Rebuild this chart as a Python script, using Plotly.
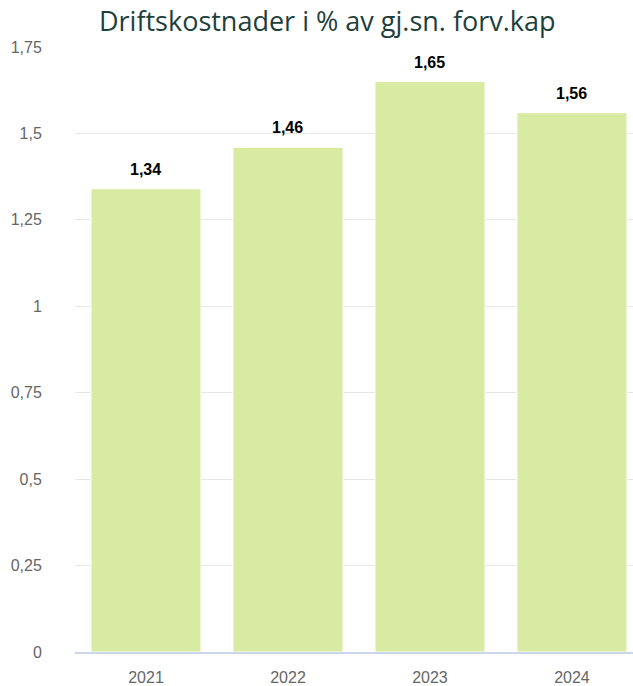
import plotly.graph_objects as go

# Data
years = ["2021", "2022", "2023", "2024"]
values = [1.34, 1.46, 1.65, 1.56]
value_labels = ["1,34", "1,46", "1,65", "1,56"]
y_ticks = [0, 0.25, 0.5, 0.75, 1, 1.25, 1.5, 1.75]
y_tick_labels = ["0", "0,25", "0,5", "0,75", "1", "1,25", "1,5", "1,75"]

bar_color = "#d9eaa3"
tick_font = dict(family="Liberation Sans, Arial", size=16, color="#666666")

fig = go.Figure()
fig.add_trace(go.Bar(
    x=list(range(len(years))),
    y=values,
    marker=dict(color=bar_color, line=dict(color="white", width=1)),
    hovertext=years,
    hoverinfo="text+y",
))

# value labels above each bar
for i, (v, lab) in enumerate(zip(values, value_labels)):
    fig.add_annotation(
        x=i, y=v, xref="x", yref="y", text=f"<b>{lab}</b>", showarrow=False,
        yanchor="bottom", yshift=9,
        font=dict(family="Liberation Sans, Arial", size=16, color="#000000"),
    )

fig.update_layout(
    width=633, height=686,
    margin=dict(l=75, r=0, t=47, b=34),
    paper_bgcolor="white", plot_bgcolor="white",
    bargap=0.225,
    showlegend=False,
    title=dict(
        text="Driftskostnader i % av gj.sn. forv.kap",
        x=0.517, xanchor="center", y=0.968, yanchor="middle",
        font=dict(family="Open Sans", size=27, color="#1d3f3b"),
    ),
    xaxis=dict(
        range=[-0.5, 3.43],
        tickvals=list(range(len(years))), ticktext=years,
        showgrid=False, zeroline=False,
        showline=True, linecolor="#ccd6eb", linewidth=2,
        ticks="outside", ticklen=10, tickcolor="rgba(0,0,0,0)",
        tickfont=tick_font,
        automargin=False,
        fixedrange=True,
    ),
    yaxis=dict(
        range=[0, 1.75],
        tickvals=y_ticks, ticktext=y_tick_labels,
        showgrid=True, gridcolor="#e6e6e6", gridwidth=1,
        zeroline=False,
        ticks="outside", ticklen=29, tickcolor="rgba(0,0,0,0)",
        tickfont=tick_font,
        automargin=False,
        fixedrange=True,
    ),
)

fig.write_html("out.html")
